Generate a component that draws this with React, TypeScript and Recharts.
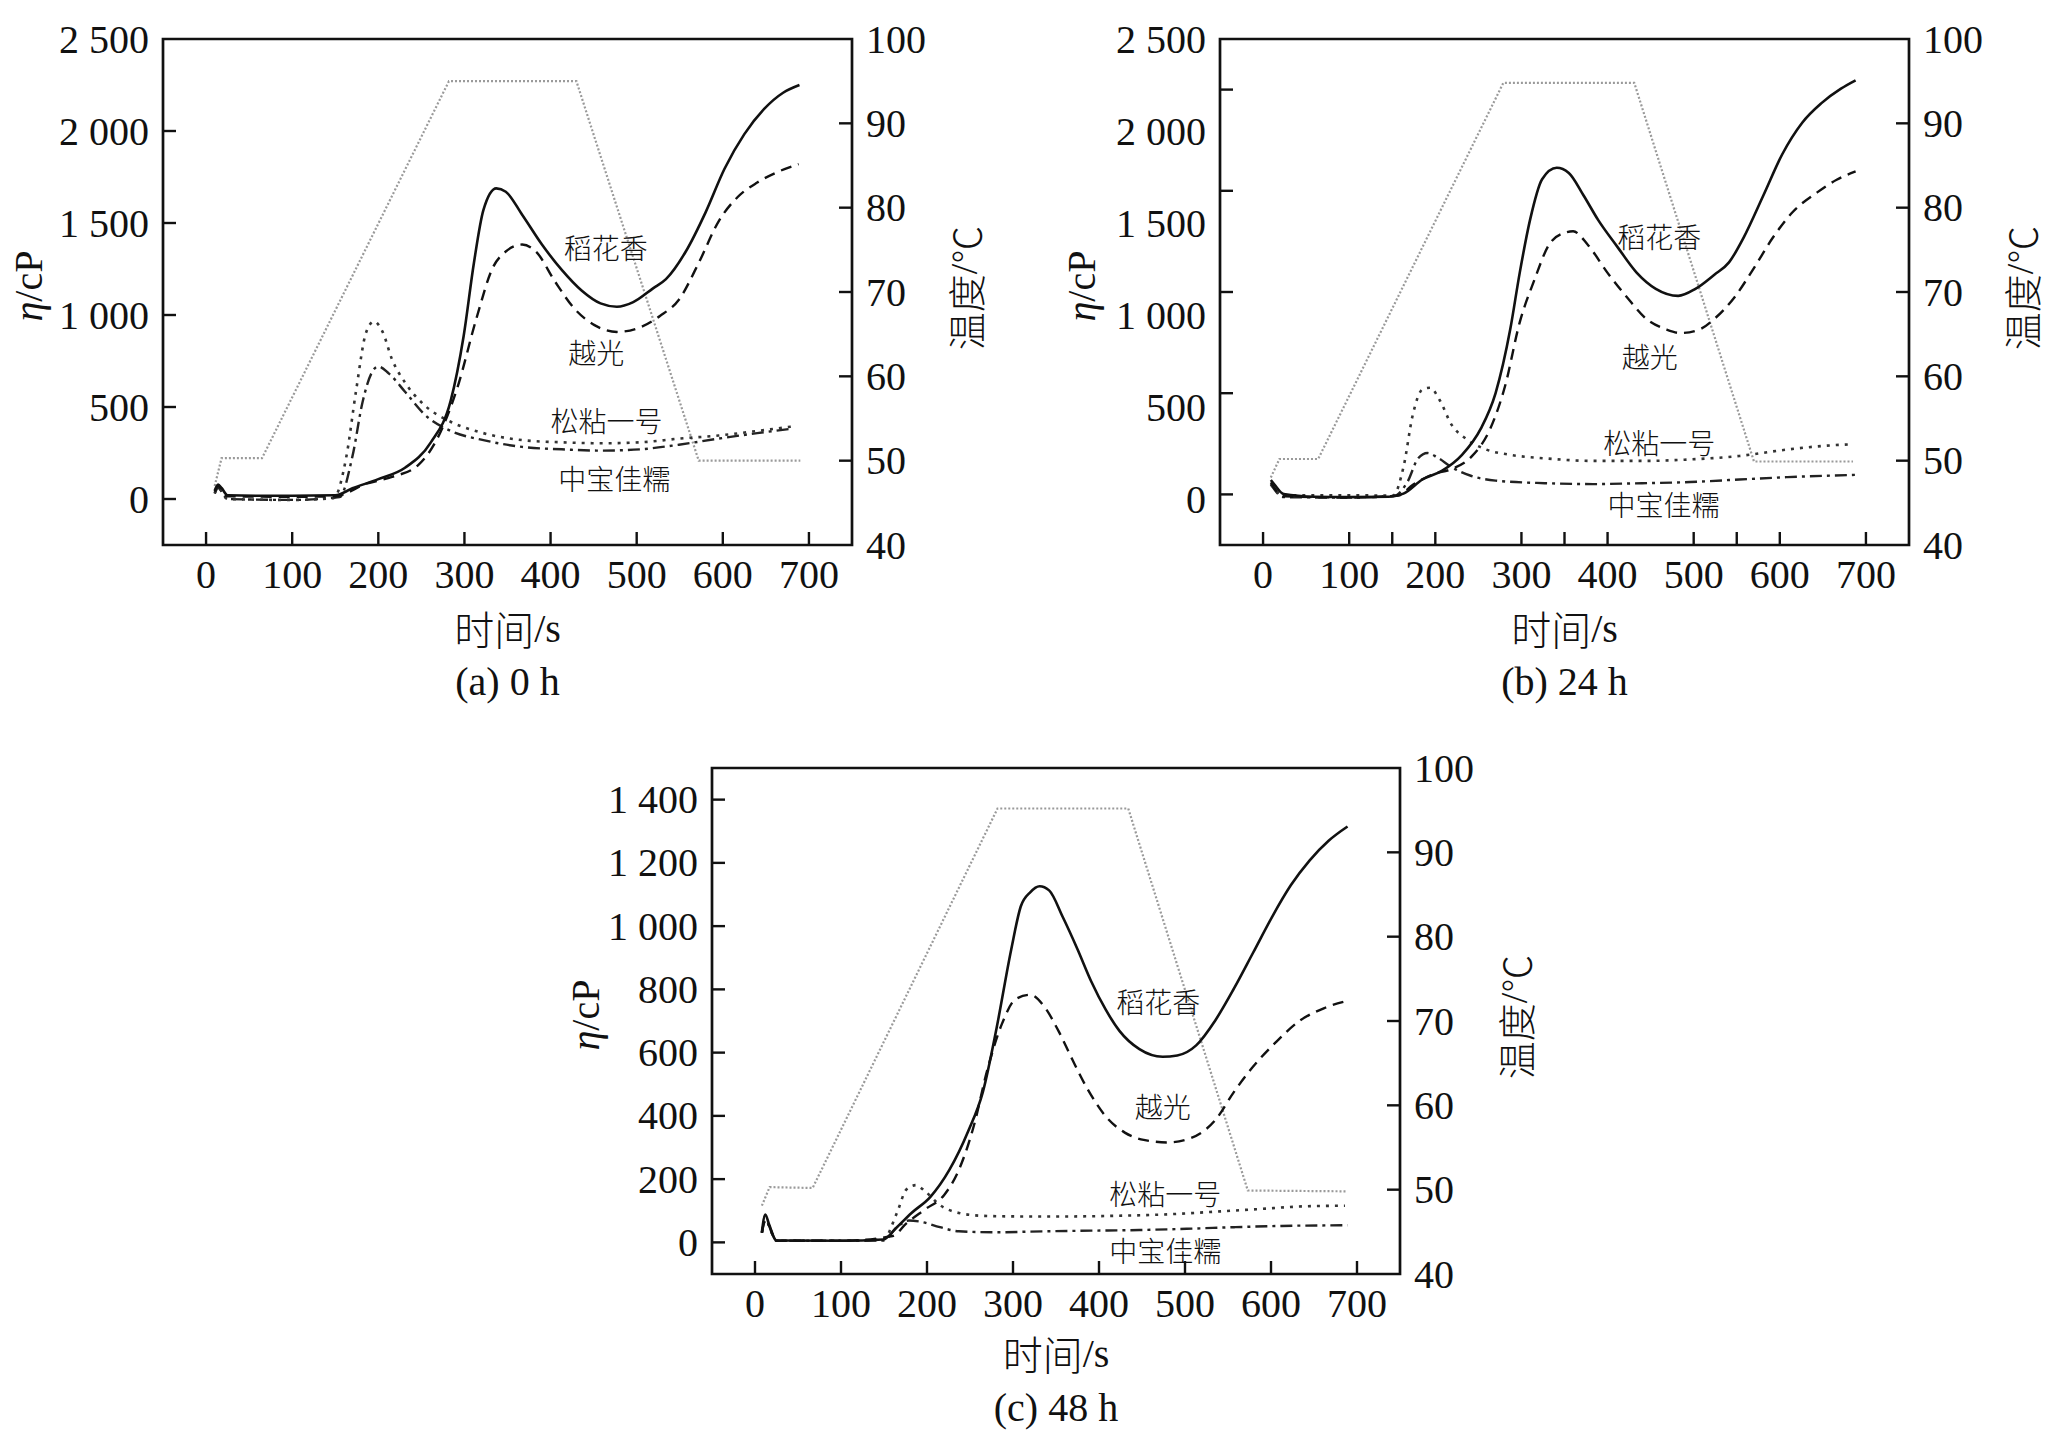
import React from 'react';
import { LineChart, Line, XAxis, YAxis, ReferenceArea, ReferenceDot } from 'recharts';

// 粘度曲线数据 [时间/s, η/cP]，温度曲线 [时间/s, ℃]
const tempA = [[10, 47], [18, 50.3], [65, 50.3], [282, 95], [430, 95], [572, 50], [690, 50]];
const daohuaxiangA = [[10, 45], [14, 78], [18, 60], [25, 20], [60, 18], [100, 18], [150, 20], [170, 58], [200, 108], [231, 170], [261, 308], [284, 533], [299, 883], [311, 1283], [322, 1570], [337, 1688], [348, 1670], [367, 1545], [390, 1383], [413, 1245], [436, 1133], [458, 1063], [477, 1045], [496, 1070], [519, 1145], [534, 1195], [557, 1345], [580, 1558], [602, 1795], [625, 1983], [648, 2120], [670, 2208], [689, 2250]];
const yueguangA = [[10, 40], [14, 70], [25, 15], [100, 12], [150, 15], [186, 83], [216, 120], [246, 183], [269, 333], [292, 608], [314, 983], [333, 1258], [348, 1345], [367, 1383], [383, 1345], [405, 1183], [428, 1033], [451, 945], [477, 908], [504, 933], [527, 995], [549, 1083], [572, 1283], [595, 1508], [617, 1640], [640, 1720], [665, 1780], [688, 1820]];
const songnianA = [[10, 30], [14, 60], [25, 0], [100, -5], [148, 5], [163, 233], [174, 583], [186, 908], [195, 965], [205, 908], [216, 758], [231, 633], [254, 508], [284, 420], [322, 358], [367, 320], [413, 308], [458, 303], [504, 308], [549, 328], [595, 345], [640, 370], [682, 395]];
const zhongbaoA = [[10, 30], [14, 60], [25, 0], [100, -5], [155, 10], [170, 233], [182, 533], [192, 683], [200, 720], [212, 683], [231, 583], [254, 458], [284, 370], [322, 320], [367, 283], [413, 270], [458, 263], [504, 270], [549, 295], [595, 328], [640, 358], [682, 383]];

const tempB = [[9, 48], [19, 50.2], [64, 50.2], [279, 94.8], [431, 94.8], [570, 49.9], [685, 49.9]];
const daohuaxiangB = [[9, 103], [13, 80], [24, 27], [60, 12], [100, 10], [146, 12], [163, 29], [185, 106], [208, 154], [231, 240], [253, 384], [270, 576], [287, 922], [298, 1229], [310, 1517], [324, 1738], [341, 1800], [355, 1772], [372, 1651], [389, 1517], [411, 1373], [434, 1229], [456, 1142], [482, 1104], [502, 1142], [524, 1219], [541, 1286], [558, 1421], [581, 1651], [603, 1875], [626, 2045], [648, 2150], [671, 2230], [688, 2275]];
const yueguangB = [[9, 90], [24, 15], [100, 8], [157, 19], [174, 77], [197, 134], [219, 163], [242, 230], [264, 384], [281, 614], [298, 960], [315, 1190], [332, 1382], [349, 1445], [360, 1455], [377, 1382], [400, 1229], [423, 1094], [445, 979], [468, 922], [485, 902], [507, 922], [524, 979], [547, 1094], [569, 1248], [592, 1421], [615, 1560], [643, 1665], [666, 1735], [688, 1780]];
const songnianB = [[9, 80], [24, 20], [100, 20], [151, 19], [163, 173], [174, 461], [185, 595], [194, 605], [205, 538], [219, 403], [236, 326], [259, 269], [287, 240], [327, 221], [383, 207], [440, 207], [496, 215], [553, 234], [609, 269], [649, 288], [685, 298]];
const zhongbaoB = [[9, 80], [24, 10], [100, 8], [151, 15], [168, 96], [180, 221], [191, 250], [202, 227], [219, 173], [242, 125], [270, 100], [327, 86], [383, 81], [440, 86], [496, 92], [553, 106], [609, 119], [688, 131]];

const tempC = [[8, 48.1], [17, 50.3], [67, 50.2], [282, 95.2], [434, 95.2], [573, 49.9], [689, 49.8]];
const daohuaxiangC = [[8, 32], [12, 88], [16, 60], [25, 6], [100, 5], [149, 9], [165, 48], [182, 93], [204, 144], [226, 229], [248, 352], [265, 476], [281, 679], [298, 927], [309, 1062], [320, 1107], [331, 1126], [342, 1113], [358, 1028], [375, 927], [391, 825], [408, 735], [424, 668], [447, 611], [474, 587], [491, 591], [513, 623], [535, 701], [557, 803], [579, 915], [601, 1028], [623, 1129], [645, 1208], [667, 1270], [689, 1315]];
const yueguangC = [[8, 30], [12, 70], [25, 5], [100, 5], [160, 20], [176, 60], [198, 105], [220, 150], [237, 229], [254, 364], [270, 544], [287, 690], [303, 769], [320, 783], [336, 747], [353, 668], [369, 578], [386, 488], [408, 398], [430, 347], [452, 324], [480, 316], [507, 330], [535, 386], [557, 476], [579, 555], [606, 634], [634, 702], [662, 741], [689, 764]];
const songnianC = [[8, 30], [12, 70], [25, 5], [100, 5], [149, 9], [165, 93], [176, 167], [187, 181], [198, 161], [215, 118], [237, 93], [265, 84], [309, 82], [364, 82], [419, 84], [474, 88], [529, 96], [584, 105], [639, 114], [686, 116]];
const zhongbaoC = [[8, 30], [12, 70], [25, 5], [100, 5], [149, 6], [165, 48], [179, 69], [193, 65], [215, 48], [237, 35], [281, 32], [336, 35], [391, 37], [447, 39], [502, 43], [557, 48], [612, 52], [689, 54]];

// 曲线旁的品种标注 [名称, 时间, η]
const namesA = [['稻花香', 464, 1367], ['越光', 453, 800], ['松粘一号', 465, 431], ['中宝佳糯', 474, 113]];
const namesB = [['稻花香', 460, 1430], ['越光', 449, 775], ['松粘一号', 460, 310], ['中宝佳糯', 465, -25]];
const namesC = [['稻花香', 469, 764], ['越光', 474, 431], ['松粘一号', 477, 155], ['中宝佳糯', 477, -25]];

// 刻度
const xLabels = [0, 100, 200, 300, 400, 500, 600, 700];
const xMarksB = [0, 100, 150, 200, 300, 350, 400, 500, 550, 600, 700];
const yLabelsAB = [0, 500, 1000, 1500, 2000, 2500];
const yMarksA = [0, 500, 1000, 1500, 2000];
const yMarksB = [25, 575, 1125, 1675, 2225];
const yLabelsC = [0, 200, 400, 600, 800, 1000, 1200, 1400];
const yMarksC = [0, 200, 400, 600, 800, 1000, 1200, 1400];
const tLabels = [40, 50, 60, 70, 80, 90, 100];
const tMarks = [50, 60, 70, 80, 90];

const SERIF = "'Liberation Serif', 'Noto Sans CJK SC', serif";
const CJK = "'Noto Sans CJK SC', 'Liberation Serif', sans-serif";
const INK = '#111';
const LEFT_W = 160;
const TOP_M = 30;
const MARK = 13;
const GAP = 14;

const toPts = (arr) => arr.map(([t, v]) => ({ t, v }));
const fmt = (v) => (v >= 1000 ? `${Math.floor(v / 1000)} ${String(v % 1000).padStart(3, '0')}` : String(v));
const union = (a, b) => Array.from(new Set([...a, ...b])).sort((p, q) => p - q);

function makeTick(side, labels, marks) {
  return (p) => {
    const v = p.payload.value;
    const hasLabel = labels.includes(v);
    const hasMark = marks.includes(v);
    let line = null;
    let text = null;
    if (side === 'left') {
      const edge = p.x + GAP;
      if (hasMark) line = <line x1={edge} x2={edge + MARK} y1={p.y} y2={p.y} stroke={INK} strokeWidth={2.4} />;
      if (hasLabel) text = <text x={p.x} y={p.y} textAnchor="end" dominantBaseline="central" fontSize={40} fontFamily={SERIF} fill={INK}>{fmt(v)}</text>;
    } else if (side === 'right') {
      const edge = p.x - GAP;
      if (hasMark) line = <line x1={edge} x2={edge - MARK} y1={p.y} y2={p.y} stroke={INK} strokeWidth={2.4} />;
      if (hasLabel) text = <text x={p.x} y={p.y} textAnchor="start" dominantBaseline="central" fontSize={40} fontFamily={SERIF} fill={INK}>{fmt(v)}</text>;
    } else {
      const edge = p.y - GAP;
      if (hasMark) line = <line x1={p.x} x2={p.x} y1={edge} y2={edge - MARK} stroke={INK} strokeWidth={2.4} />;
      if (hasLabel) text = <text x={p.x} y={p.y} dy="0.72em" textAnchor="middle" fontSize={40} fontFamily={SERIF} fill={INK}>{fmt(v)}</text>;
    }
    return <g>{line}{text}</g>;
  };
}

function Panel({ left, top, plotW, plotH, rightW, bottomH, titleOff, captionOff, yDomain, yLabels, yMarks, xMarks, series, names, caption, etaOff, tempOff }) {
  const [temp, dh, yg, sn, zb] = series;
  const xAxisLabel = ({ viewBox }) => {
    const cx = viewBox.x + viewBox.width / 2;
    return (
      <g>
        <text x={cx} y={viewBox.y + titleOff} textAnchor="middle" dominantBaseline="central" fontSize={40} fontFamily={CJK} fontWeight={300} fill={INK}>
          时间<tspan fontFamily={SERIF}>/s</tspan>
        </text>
        <text x={cx} y={viewBox.y + captionOff} textAnchor="middle" dominantBaseline="central" fontSize={40} fontFamily={SERIF} fill={INK}>
          {caption}
        </text>
      </g>
    );
  };
  const etaLabel = ({ viewBox }) => {
    const x = viewBox.x + viewBox.width - etaOff;
    const y = viewBox.y + viewBox.height / 2 - 6;
    return (
      <text x={x} y={y} transform={`rotate(-90 ${x} ${y})`} textAnchor="middle" dominantBaseline="central" fontSize={40} fontFamily={SERIF} fill={INK}>
        <tspan fontStyle="italic">η</tspan>/cP
      </text>
    );
  };
  const tempLabel = ({ viewBox }) => {
    const x = viewBox.x + tempOff;
    const y = viewBox.y + viewBox.height / 2 - 4;
    return (
      <text x={x} y={y} transform={`rotate(-90 ${x} ${y})`} textAnchor="middle" dominantBaseline="central" fontSize={38} fontFamily={CJK} fontWeight={300} fill={INK}>
        温度<tspan fontFamily={SERIF}>/</tspan>℃
      </text>
    );
  };
  return (
    <div style={{ position: 'absolute', left: left - LEFT_W, top: top - TOP_M }}>
      <LineChart width={LEFT_W + plotW + rightW} height={TOP_M + plotH + bottomH} margin={{ top: TOP_M, right: 0, bottom: 0, left: 0 }}>
        <XAxis dataKey="t" type="number" domain={[-50, 750]} ticks={union(xLabels, xMarks)} interval={0} allowDataOverflow
          axisLine={false} tickLine={false} tickSize={0} tickMargin={GAP} height={bottomH}
          tick={makeTick('bottom', xLabels, xMarks)} label={xAxisLabel} />
        <YAxis yAxisId="v" type="number" domain={yDomain} ticks={union(yLabels, yMarks)} interval={0} allowDataOverflow
          axisLine={false} tickLine={false} tickSize={0} tickMargin={GAP} width={LEFT_W}
          tick={makeTick('left', yLabels, yMarks)} label={etaLabel} />
        <YAxis yAxisId="T" orientation="right" type="number" domain={[40, 100]} ticks={tLabels} interval={0} allowDataOverflow
          axisLine={false} tickLine={false} tickSize={0} tickMargin={GAP} width={rightW}
          tick={makeTick('right', tLabels, tMarks)} label={tempLabel} />
        <ReferenceArea yAxisId="v" x1={-50} x2={750} y1={yDomain[0]} y2={yDomain[1]} fill="none" stroke={INK} strokeWidth={2.7} />
        <Line yAxisId="T" data={toPts(temp)} dataKey="v" type="linear" stroke="#9a9a9a" strokeWidth={2.2} strokeDasharray="2 2" dot={false} isAnimationActive={false} />
        <Line yAxisId="v" data={toPts(zb)} dataKey="v" type="monotone" stroke="#222" strokeWidth={2.4} strokeDasharray="12 5 3 5" dot={false} isAnimationActive={false} />
        <Line yAxisId="v" data={toPts(sn)} dataKey="v" type="monotone" stroke="#333" strokeWidth={2.6} strokeDasharray="3 6" dot={false} isAnimationActive={false} />
        <Line yAxisId="v" data={toPts(yg)} dataKey="v" type="monotone" stroke={INK} strokeWidth={2.4} strokeDasharray="11 7" dot={false} isAnimationActive={false} />
        <Line yAxisId="v" data={toPts(dh)} dataKey="v" type="monotone" stroke={INK} strokeWidth={2.6} dot={false} isAnimationActive={false} />
        {names.map(([name, t, v]) => (
          <ReferenceDot key={name} yAxisId="v" x={t} y={v} r={0}
            shape={(p) => (
              <text x={p.cx} y={p.cy} textAnchor="middle" dominantBaseline="central" fontSize={28} fontFamily={CJK} fontWeight={300} fill={INK}>{name}</text>
            )} />
        ))}
      </LineChart>
    </div>
  );
}

export default function App() {
  return (
    <div style={{ position: 'absolute', left: 0, top: 0, width: 2046, height: 1431, overflow: 'hidden', background: '#fff' }}>
      <Panel left={163} top={39} plotW={689} plotH={506} rightW={160} bottomH={170} titleOff={83} captionOff={136}
        yDomain={[-250, 2500]} yLabels={yLabelsAB} yMarks={yMarksA} xMarks={xLabels}
        series={[tempA, daohuaxiangA, yueguangA, songnianA, zhongbaoA]} names={namesA} caption="(a) 0 h" etaOff={135} tempOff={112} />
      <Panel left={1220} top={39} plotW={689} plotH={506} rightW={137} bottomH={170} titleOff={83} captionOff={136}
        yDomain={[-250, 2500]} yLabels={yLabelsAB} yMarks={yMarksB} xMarks={xMarksB}
        series={[tempB, daohuaxiangB, yueguangB, songnianB, zhongbaoB]} names={namesB} caption="(b) 24 h" etaOff={139} tempOff={111} />
      <Panel left={712} top={768} plotW={688} plotH={506} rightW={160} bottomH={157} titleOff={79} captionOff={133}
        yDomain={[-100, 1500]} yLabels={yLabelsC} yMarks={yMarksC} xMarks={xLabels}
        series={[tempC, daohuaxiangC, yueguangC, songnianC, zhongbaoC]} names={namesC} caption="(c) 48 h" etaOff={127} tempOff={114} />
    </div>
  );
}
